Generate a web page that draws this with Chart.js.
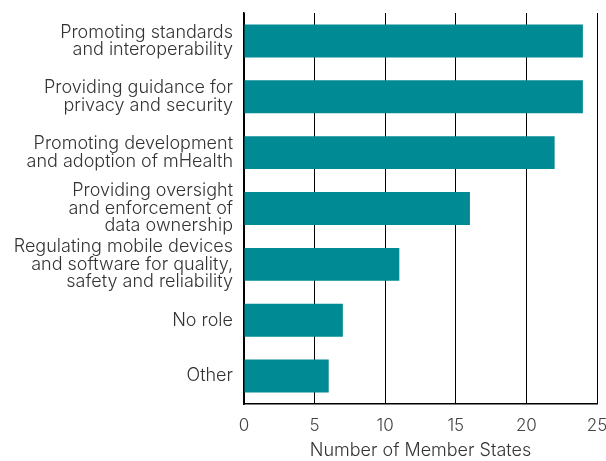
<!DOCTYPE html>
<html>
<head>
<meta charset="utf-8">
<script src="https://cdn.jsdelivr.net/npm/chart.js@4.4.0/dist/chart.umd.min.js"></script>
<style>
  html, body { margin: 0; padding: 0; background: #fff; }
  #wrap { width: 606px; height: 461px; }
</style>
</head>
<body>
<div id="wrap"><canvas id="roleChart"></canvas></div>
<script>
// categories (multi-line labels) and counts
let role_labels = [
    ['Promoting standards', 'and interoperability'],
    ['Providing guidance for', 'privacy and security'],
    ['Promoting development', 'and adoption of mHealth'],
    ['Providing oversight', 'and enforcement of', 'data ownership'],
    ['Regulating mobile devices', 'and software for quality,', 'safety and reliability'],
    'No role',
    'Other'
];
let role_counts = [24, 24, 22, 16, 11, 7, 6];
let x_min = 0;
let x_max = 25;
let x_step = 5;

Chart.defaults.font.family = 'Inter, "Open Sans", sans-serif';
Chart.defaults.font.weight = '300';
Chart.defaults.color = '#333';

const ctx = document.getElementById('roleChart').getContext('2d');
const roleChart = new Chart(ctx, {
    type: 'bar',
    data: {
        labels: role_labels,
        datasets: [{
            data: role_counts,
            backgroundColor: '#008a93',
            borderWidth: 0,
            categoryPercentage: 1,
            barPercentage: 0.59
        }]
    },
    options: {
        indexAxis: 'y',
        responsive: true,
        maintainAspectRatio: false,
        animation: false,
        layout: { padding: { top: 13, right: 9, left: 0, bottom: 0 } },
        plugins: {
            legend: { display: false },
            tooltip: { enabled: false }
        },
        scales: {
            x: {
                min: x_min,
                max: x_max,
                afterFit: (scale) => {
                    scale.height = 57;
                    scale.paddingLeft = 0;
                    scale.paddingRight = 0;
                },
                ticks: { stepSize: x_step, padding: 12, font: { size: 17 }, color: '#444' },
                grid: { color: '#000', lineWidth: 1, drawTicks: false },
                border: { display: true, color: '#000', width: 1.5 },
                title: {
                    display: true,
                    text: 'Number of Member States',
                    font: { size: 18 },
                    color: '#333',
                    padding: { top: 4, bottom: 0 }
                }
            },
            y: {
                afterFit: (scale) => {
                    scale.width = 244;
                    scale.paddingTop = 0;
                    scale.paddingBottom = 0;
                },
                grid: { display: false, drawTicks: false },
                border: { display: true, color: '#000', width: 1.5 },
                ticks: {
                    autoSkip: false,
                    padding: 11,
                    font: { size: 18, lineHeight: 0.97 },
                    color: '#333'
                }
            }
        }
    }
});
</script>
</body>
</html>
